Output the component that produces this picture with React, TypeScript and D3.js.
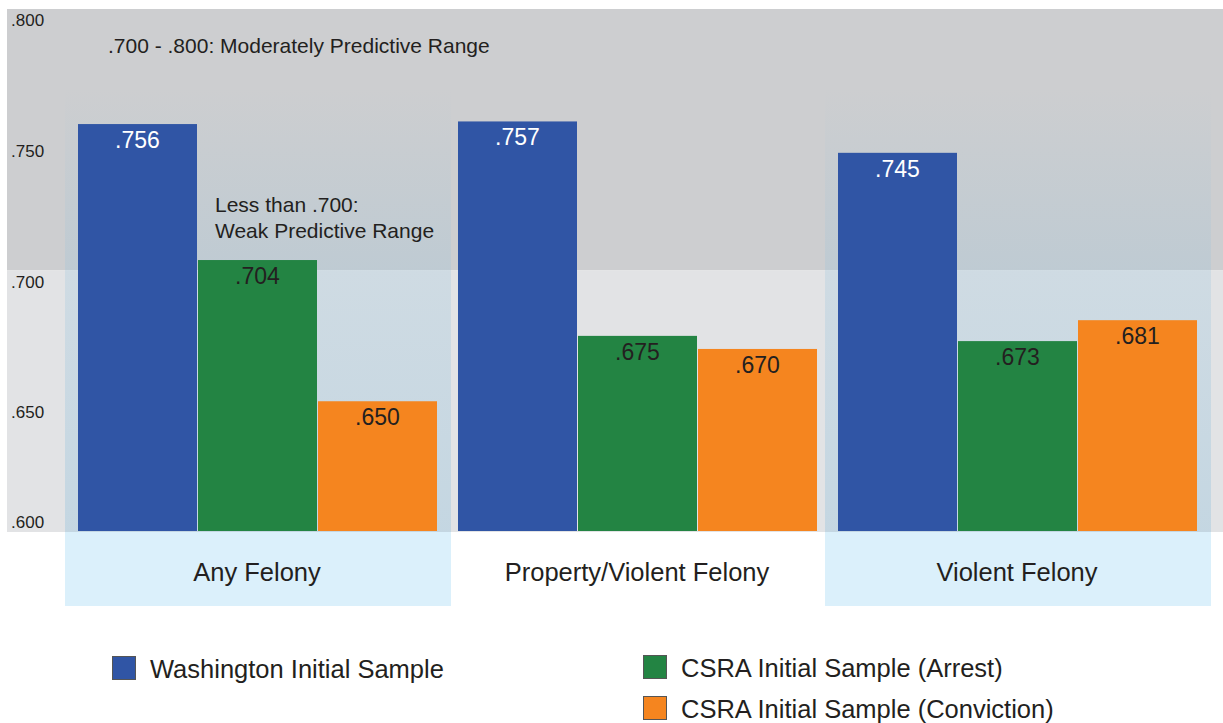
import { scaleBand, scaleLinear } from "d3";
import React from "react";

const categories = ["Any Felony", "Property/Violent Felony", "Violent Felony"];
const series = [
  "Washington Initial Sample",
  "CSRA Initial Sample (Arrest)",
  "CSRA Initial Sample (Conviction)",
];
const washington = [0.756, 0.757, 0.745];
const csraArrest = [0.704, 0.675, 0.673];
const csraConviction = [0.65, 0.67, 0.681];
const highlighted = ["Any Felony", "Violent Felony"];
const yTicks = [0.8, 0.75, 0.7, 0.65, 0.6];

const colors = ["#3055a5", "#238443", "#f5851f"];
const labelColors = ["#ffffff", "#231f20", "#231f20"];
const FONT = "'Liberation Sans', Arial, sans-serif";

const W = 1223;
const H = 723;
const plotLeft = 7;
const plotTop = 9;
const plotBottom = 532;

const fmt = (v: number) => v.toFixed(3).replace(/^0/, "");

const App: React.FC = () => {
  const values = [washington, csraArrest, csraConviction];

  const y = scaleLinear().domain([0.6, 0.8]).range([plotBottom, plotTop]);

  const x0 = scaleBand<string>()
    .domain(categories)
    .range([68, 1208])
    .paddingInner(1 / 19)
    .paddingOuter(1 / 38);

  const x1 = scaleBand<string>()
    .domain(series)
    .range([0, x0.bandwidth()]);

  const panelTop = 88;
  const panelBottom = 606;

  return (
    <>
      <style>{"body{margin:0}"}</style>
      <svg width={W} height={H} style={{ display: "block", fontFamily: FONT }}>
        <defs>
          <linearGradient
            id="panelGrad"
            gradientUnits="userSpaceOnUse"
            x1={0}
            y1={panelTop}
            x2={0}
            y2={plotBottom}
          >
            <stop offset="0" stopColor="#8fc0dc" stopOpacity={0} />
            <stop
              offset={(y(0.7) - panelTop) / (plotBottom - panelTop)}
              stopColor="#8fc0dc"
              stopOpacity={0.23}
            />
            <stop offset="1" stopColor="#8fc0dc" stopOpacity={0.36} />
          </linearGradient>
        </defs>

        {/* background bands */}
        <rect
          x={plotLeft}
          y={y(0.8)}
          width={W - plotLeft}
          height={y(0.7) - y(0.8)}
          fill="#cdced0"
        />
        <rect
          x={plotLeft}
          y={y(0.7)}
          width={W - plotLeft}
          height={y(0.6) - y(0.7)}
          fill="#e2e3e5"
        />

        {/* highlighted group panels */}
        {highlighted.map((c) => {
          const gx = x0(c)!;
          const px = gx - 13;
          const pw = x0.bandwidth() + 26;
          return (
            <g key={c}>
              <rect
                x={px}
                y={panelTop}
                width={pw}
                height={plotBottom - panelTop}
                fill="url(#panelGrad)"
              />
              <rect
                x={px}
                y={plotBottom}
                width={pw}
                height={panelBottom - plotBottom}
                fill="#dbf0fb"
              />
            </g>
          );
        })}

        {/* y axis labels */}
        {yTicks.map((t) => (
          <text
            key={t}
            x={11}
            y={Math.min(y(t) + 17, plotBottom - 4)}
            fontSize={17}
            fill="#231f20"
          >
            {fmt(t)}
          </text>
        ))}

        {/* bars */}
        {categories.map((c, ci) => (
          <g key={c} transform={`translate(${x0(c)},0)`}>
            {series.map((s, si) => {
              const v = values[si][ci];
              const bx = x1(s)!;
              const bw = x1.bandwidth() - 1;
              return (
                <g key={s}>
                  <rect
                    x={bx}
                    y={y(v)}
                    width={bw}
                    height={y(0.6) - y(v) - 1}
                    fill={colors[si]}
                  />
                  <text
                    x={bx + bw / 2}
                    y={y(v) + 24}
                    textAnchor="middle"
                    fontSize={23}
                    fill={labelColors[si]}
                  >
                    {fmt(v)}
                  </text>
                </g>
              );
            })}
            <text
              x={x0.bandwidth() / 2 - 1}
              y={581}
              textAnchor="middle"
              fontSize={25.5}
              fill="#231f20"
            >
              {c}
            </text>
          </g>
        ))}

        {/* annotations */}
        <text x={108} y={53} fontSize={21} fill="#231f20">
          .700 - .800: Moderately Predictive Range
        </text>
        <text x={215} y={212} fontSize={21} fill="#231f20">
          Less than .700:
        </text>
        <text x={215} y={238} fontSize={21} fill="#231f20">
          Weak Predictive Range
        </text>

        {/* legend */}
        {[
          { x: 112, y: 656 },
          { x: 643, y: 655 },
          { x: 643, y: 696 },
        ].map((p, i) => (
          <g key={series[i]} transform={`translate(${p.x},${p.y})`}>
            <rect
              x={0.5}
              y={0.5}
              width={23}
              height={23}
              fill={colors[i]}
              stroke="#555"
              strokeWidth={1}
            />
            <text x={38} y={22} fontSize={25.5} fill="#231f20">
              {series[i]}
            </text>
          </g>
        ))}
      </svg>
    </>
  );
};

export default App;
